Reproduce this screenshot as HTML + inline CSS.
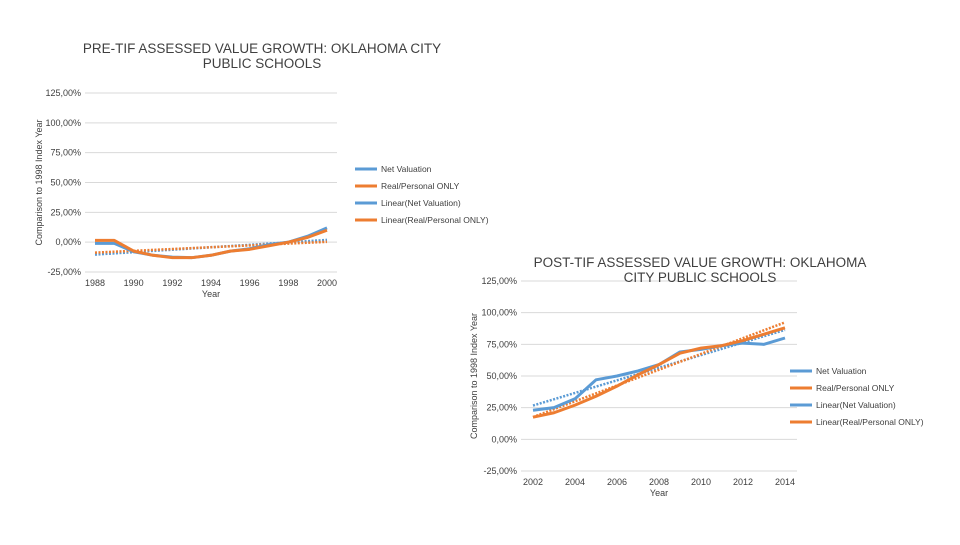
<!DOCTYPE html>
<html><head><meta charset="utf-8"><style>
body{margin:0;background:#fff;width:960px;height:540px;overflow:hidden;font-family:"Liberation Sans",sans-serif}
svg text{font-family:"Liberation Sans",sans-serif;fill:#404040}
</style></head><body>
<svg id="s" width="960" height="540"></svg>
<script>
const yTicks=[-25,0,25,50,75,100,125];
const yTickLabels=["-25,00%","0,00%","25,00%","50,00%","75,00%","100,00%","125,00%"];
const years1=[1988,1989,1990,1991,1992,1993,1994,1995,1996,1997,1998,1999,2000];
const net1=[-1,-1,-8,-11,-12.5,-13,-11,-7.5,-5.5,-2,0,5,12];
const real1=[1.5,1.5,-7.5,-11,-13,-13,-11,-7.5,-6,-3,0,4,10];
const xTicks1=[1988,1990,1992,1994,1996,1998,2000];
const years2=[2002,2003,2004,2005,2006,2007,2008,2009,2010,2011,2012,2013,2014];
const net2=[23,25,32,47,50,54,59,69,71,74,76,75,80];
const real2=[17.5,21,27,34,42,51,59,68,72,74,78,83,88];
const xTicks2=[2002,2004,2006,2008,2010,2012,2014];
const legendLabels=["Net Valuation","Real/Personal ONLY","Linear(Net Valuation)","Linear(Real/Personal ONLY)"];
const BLUE="#5b9bd5",ORANGE="#ed7d31";
const svg=document.getElementById('s');
const NS="http://www.w3.org/2000/svg";
function mk(tag,attrs,parent){const e=document.createElementNS(NS,tag);for(const k in attrs)e.setAttribute(k,attrs[k]);(parent||svg).appendChild(e);return e;}
function txt(x,y,s,size,anchor,parent){const t=mk('text',{x:x,y:y,'font-size':size,'text-anchor':anchor||'start'},parent);t.textContent=s;return t;}
function linreg(xs,ys){const n=xs.length;let mx=0,my=0;for(let i=0;i<n;i++){mx+=xs[i];my+=ys[i];}mx/=n;my/=n;let a=0,b=0;for(let i=0;i<n;i++){a+=(xs[i]-mx)*(ys[i]-my);b+=(xs[i]-mx)**2;}const m=a/b;return x=>my+m*(x-mx);}
function chart(cfg){
 const g=mk('g',{});
 
 
 const sx=v=>cfg.x0+(v-cfg.xmin)/(cfg.xmax-cfg.xmin)*(cfg.x1-cfg.x0);
 const sy=v=>cfg.yb+(v-(-25))/150*(cfg.yt-cfg.yb);
 yTicks.forEach((v,i)=>{
  const gl=mk('line',{x1:cfg.gx0,x2:cfg.gx1,y1:sy(v),y2:sy(v),stroke:'#d9d9d9','stroke-width':1},g);
  
  
  const t=txt(cfg.gx0-4,sy(v)+3,yTickLabels[i],9,'end',g);
  
  
 });
 cfg.xt.forEach(v=>{const t=txt(sx(v),sy(-25)+14,String(v),9,'middle',g);
  
  });
 const xt=txt((cfg.x0+cfg.x1)/2,sy(-25)+25,'Year',9,'middle',g);
 
 const yt=txt(0,0,'Comparison to 1998 Index Year',9,'middle',g);
 yt.setAttribute('transform',`translate(${cfg.ytx},${(sy(-25)+sy(125))/2}) rotate(-90)`);
 
 const line=(xs,ys,col,w,dash,name)=>{const p=mk('polyline',{points:xs.map((x,i)=>sx(x)+','+sy(ys[i])).join(' '),fill:'none',stroke:col,'stroke-width':w,'stroke-linejoin':'round','stroke-dasharray':dash||'none'},g);
  };
 const fn=linreg(cfg.xs,cfg.net),fr=linreg(cfg.xs,cfg.real);
 const ends=[cfg.xs[0],cfg.xs[cfg.xs.length-1]];
 line(ends,ends.map(fn),BLUE,2.5,'2,1.5','trend-net-valuation');
 line(ends,ends.map(fr),ORANGE,2.5,'2,1.5','trend-real-personal');
 line(cfg.xs,cfg.net,BLUE,3,null,'series-net-valuation');
 line(cfg.xs,cfg.real,ORANGE,3,null,'series-real-personal');
 const cols=[BLUE,ORANGE,BLUE,ORANGE];
 legendLabels.forEach((l,i)=>{const y=cfg.ly+i*17;
  const lg=mk('g',{},g);
  mk('line',{x1:cfg.lx,x2:cfg.lx+22,y1:y,y2:y,stroke:cols[i],'stroke-width':3},lg);
  txt(cfg.lx+26,y+3,l,8.5,'start',lg);});
 cfg.title.forEach((s,i)=>{const t=txt(cfg.tx,cfg.ty+i*15,s,13.5,'middle',g);
  });
}
chart({name:'pre-tif-chart',xs:years1,net:net1,real:real1,xt:xTicks1,xmin:1988,xmax:2000,x0:95,x1:327,gx0:85,gx1:337,yt:93,yb:272,ytx:42,lx:355,ly:169,title:['PRE-TIF ASSESSED VALUE GROWTH: OKLAHOMA CITY','PUBLIC SCHOOLS'],tx:262,ty:53});
chart({name:'post-tif-chart',xs:years2,net:net2,real:real2,xt:xTicks2,xmin:2002,xmax:2014,x0:533,x1:785,gx0:521,gx1:797,yt:281,yb:471,ytx:477,lx:790,ly:371,title:['POST-TIF ASSESSED VALUE GROWTH: OKLAHOMA','CITY PUBLIC SCHOOLS'],tx:700,ty:267});
</script>
</body></html>
